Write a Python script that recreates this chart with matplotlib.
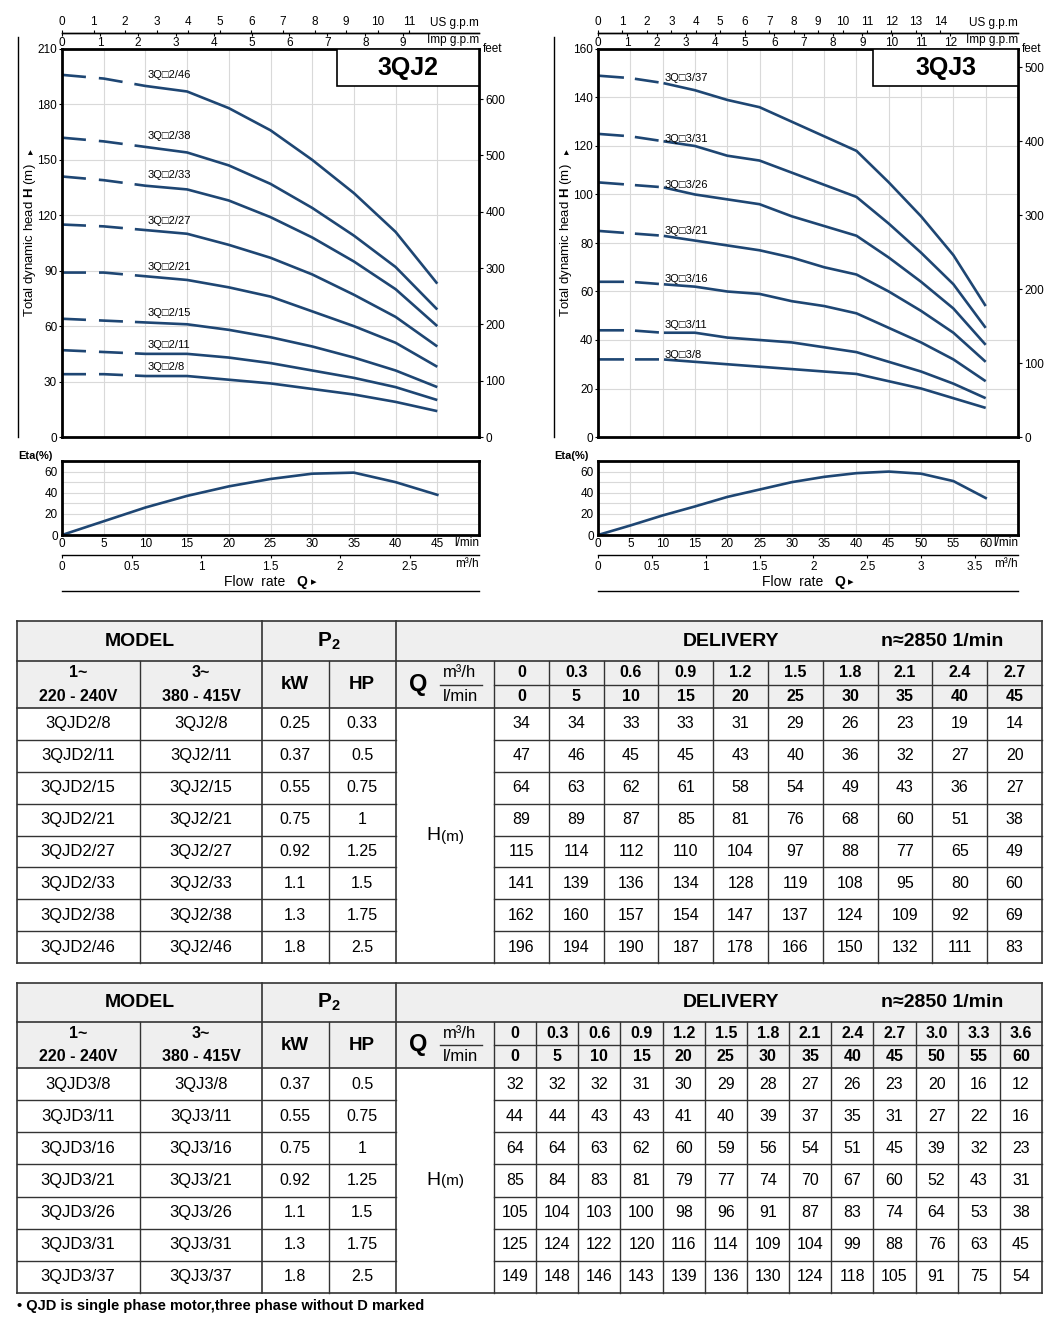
import numpy as np
import matplotlib
matplotlib.use("Agg")
import matplotlib.pyplot as plt
from matplotlib.patches import Rectangle
from matplotlib.ticker import MultipleLocator

plt.rcParams['font.family'] = ['Liberation Sans', 'DejaVu Sans']
plt.rcParams['mathtext.fontset'] = 'custom'
plt.rcParams['mathtext.rm'] = 'Liberation Sans'
plt.rcParams['mathtext.bf'] = 'Liberation Sans:bold'
plt.rcParams['lines.scale_dashes'] = False

# ---- data: 3QJ2 series ----
q2_m3h = ['0', '0.3', '0.6', '0.9', '1.2', '1.5', '1.8', '2.1', '2.4', '2.7']
q2_lpm = [0, 5, 10, 15, 20, 25, 30, 35, 40, 45]
models2_1ph = ['3QJD2/8', '3QJD2/11', '3QJD2/15', '3QJD2/21', '3QJD2/27', '3QJD2/33', '3QJD2/38', '3QJD2/46']
models2_3ph = ['3QJ2/8', '3QJ2/11', '3QJ2/15', '3QJ2/21', '3QJ2/27', '3QJ2/33', '3QJ2/38', '3QJ2/46']
kw2 = ['0.25', '0.37', '0.55', '0.75', '0.92', '1.1', '1.3', '1.8']
hp2 = ['0.33', '0.5', '0.75', '1', '1.25', '1.5', '1.75', '2.5']
head2 = [
    [34, 34, 33, 33, 31, 29, 26, 23, 19, 14],
    [47, 46, 45, 45, 43, 40, 36, 32, 27, 20],
    [64, 63, 62, 61, 58, 54, 49, 43, 36, 27],
    [89, 89, 87, 85, 81, 76, 68, 60, 51, 38],
    [115, 114, 112, 110, 104, 97, 88, 77, 65, 49],
    [141, 139, 136, 134, 128, 119, 108, 95, 80, 60],
    [162, 160, 157, 154, 147, 137, 124, 109, 92, 69],
    [196, 194, 190, 187, 178, 166, 150, 132, 111, 83],
]
label_y2 = [38, 50, 67, 92, 117, 142, 163, 196]
eta2 = [0, 13, 26, 37, 46, 53, 58, 59, 50, 38]

# ---- data: 3QJ3 series ----
q3_m3h = ['0', '0.3', '0.6', '0.9', '1.2', '1.5', '1.8', '2.1', '2.4', '2.7', '3.0', '3.3', '3.6']
q3_lpm = [0, 5, 10, 15, 20, 25, 30, 35, 40, 45, 50, 55, 60]
models3_1ph = ['3QJD3/8', '3QJD3/11', '3QJD3/16', '3QJD3/21', '3QJD3/26', '3QJD3/31', '3QJD3/37']
models3_3ph = ['3QJ3/8', '3QJ3/11', '3QJ3/16', '3QJ3/21', '3QJ3/26', '3QJ3/31', '3QJ3/37']
kw3 = ['0.37', '0.55', '0.75', '0.92', '1.1', '1.3', '1.8']
hp3 = ['0.5', '0.75', '1', '1.25', '1.5', '1.75', '2.5']
head3 = [
    [32, 32, 32, 31, 30, 29, 28, 27, 26, 23, 20, 16, 12],
    [44, 44, 43, 43, 41, 40, 39, 37, 35, 31, 27, 22, 16],
    [64, 64, 63, 62, 60, 59, 56, 54, 51, 45, 39, 32, 23],
    [85, 84, 83, 81, 79, 77, 74, 70, 67, 60, 52, 43, 31],
    [105, 104, 103, 100, 98, 96, 91, 87, 83, 74, 64, 53, 38],
    [125, 124, 122, 120, 116, 114, 109, 104, 99, 88, 76, 63, 45],
    [149, 148, 146, 143, 139, 136, 130, 124, 118, 105, 91, 75, 54],
]
label_y3 = [34, 46, 65, 85, 104, 123, 148]
eta3 = [0, 9, 18.5, 27, 36, 43, 50, 55, 58.5, 60, 58, 51, 35]

CURVE = '#1e4673'
GRID = '#d9d9d9'
LINE = '#333333'
HEAD_BG = '#efefef'

W, H = 1060, 1328
fig = plt.figure(figsize=(W / 100, H / 100), dpi=100)


def px_axes(x0, y0, x1, y1):
    return fig.add_axes([x0 / W, 1 - y1 / H, (x1 - x0) / W, (y1 - y0) / H])


def px2pt(v):
    return [a * 0.72 for a in v]


charts = [
    dict(x0=62, x1=479, xmax=50, hmax=210, hstep=30, feet=600, us=11, imp=9,
         m3=2.5, title='3QJ2', dash=[24, 13, 24, 12, 3000, 1], box=0.6595),
    dict(x0=598, x1=1018, xmax=65, hmax=160, hstep=20, feet=500, us=14, imp=12,
         m3=3.5, title='3QJ3', dash=[26, 11, 24, 5, 3000, 1], box=0.6548),
]
series = [(q2_lpm, head2, models2_3ph, label_y2, eta2),
          (q3_lpm, head3, models3_3ph, label_y3, eta3)]

for cfg, (flows, heads, names, label_y, eta) in zip(charts, series):
    x0, x1 = cfg['x0'], cfg['x1']
    # head chart
    ax = px_axes(x0, 49, x1, 437)
    ax.set_xlim(0, cfg['xmax'])
    ax.set_ylim(0, cfg['hmax'])
    ax.set_xticks(np.arange(0, cfg['xmax'] + 0.1, 5))
    ax.set_yticks(np.arange(0, cfg['hmax'] + 0.1, cfg['hstep']))
    ax.grid(True, color=GRID, lw=0.8)
    ax.set_axisbelow(True)
    ax.tick_params(axis='x', length=0, labelbottom=False)
    ax.tick_params(axis='y', length=2, pad=1.5, labelsize=8.5)
    for s in ax.spines.values():
        s.set_linewidth(2)
    for h, name, ly in zip(heads, names, label_y):
        ax.plot(flows, h, color=CURVE, lw=1.9, dashes=px2pt(cfg['dash']))
        ax.text(10.3, ly, '3Q\u25a1' + name[3:], fontsize=8, va='center', ha='left')
    ax.add_patch(Rectangle((cfg['box'], 0.9046), 1 - cfg['box'], 0.0954, transform=ax.transAxes,
                           fc='white', ec='black', lw=1.2, zorder=3))
    ax.text((1 + cfg['box']) / 2, 0.952, cfg['title'], transform=ax.transAxes, fontsize=18,
            fontweight='bold', ha='center', va='center', zorder=4)

    ax2 = ax.twinx()
    ax2.set_ylim(0, cfg['hmax'] / 0.3048)
    ax2.set_yticks(np.arange(0, cfg['feet'] + 1, 100))
    ax2.tick_params(axis='y', length=3, pad=1.5, labelsize=8.5)
    for s in ax2.spines.values():
        s.set_visible(False)

    loc = 1 + 16 / 388
    us = ax.secondary_xaxis(loc, functions=(lambda x: x / 3.785, lambda x: x * 3.785))
    us.set_xticks(range(cfg['us'] + 1))
    us.tick_params(length=2.5, pad=1, labelsize=8.5, width=0.8)
    imp = ax.secondary_xaxis(loc, functions=(lambda x: x / 4.546, lambda x: x * 4.546))
    imp.set_alignment('bottom')
    imp.set_xticks(range(cfg['imp'] + 1))
    imp.tick_params(length=2.5, pad=0.5, labelsize=8.5, width=0.8)
    for sa in (us, imp):
        for s in sa.spines.values():
            s.set_linewidth(1.0)

    # efficiency chart
    ae = px_axes(x0, 461, x1, 535)
    ae.set_xlim(0, cfg['xmax'])
    ae.set_ylim(0, 70)
    ae.set_xticks(flows)
    ae.set_xticklabels([str(t) for t in flows])
    ae.set_yticks([0, 20, 40, 60])
    ae.yaxis.set_minor_locator(MultipleLocator(10))
    ae.xaxis.set_minor_locator(MultipleLocator(5))
    ae.grid(True, which='both', color=GRID, lw=0.8)
    ae.set_axisbelow(True)
    ae.tick_params(which='both', length=0, labelsize=8.5)
    ae.tick_params(axis='x', pad=2)
    ae.tick_params(axis='y', pad=3)
    for s in ae.spines.values():
        s.set_linewidth(2)
    ae.plot(flows, eta, color=CURVE, lw=1.9)

    m3 = ae.secondary_xaxis(-20 / 74, functions=(lambda x: x * 0.06, lambda x: x / 0.06))
    mt = np.arange(0, cfg['m3'] + 0.01, 0.5)
    m3.set_xticks(mt)
    m3.set_xticklabels(['%g' % v for v in mt])
    m3.tick_params(length=2.5, pad=1.5, labelsize=8.5, width=0.8)
    for s in m3.spines.values():
        s.set_linewidth(1.0)

# overlay in pixel coordinates for texts and table
ov = fig.add_axes([0, 0, 1, 1])
ov.set_xlim(0, W)
ov.set_ylim(H, 0)
ov.axis('off')

for cfg in charts:
    x0, x1 = cfg['x0'], cfg['x1']
    ov.text(x1, 23, 'US g.p.m', fontsize=8.5, ha='right', va='center')
    ov.text(x1, 40, 'Imp g.p.m', fontsize=8.5, ha='right', va='center')
    ov.text(x1 + 4, 49, 'feet', fontsize=8.5, ha='left', va='center')
    ov.text(x1, 543, 'l/min', fontsize=8.5, ha='right', va='center')
    ov.text(x1, 564, 'm\u00b3/h', fontsize=8.5, ha='right', va='center')
    ov.text(x0 - 44, 456, 'Eta(%)', fontsize=8, fontweight='bold', ha='left', va='center')
    ov.plot([x0 - 44, x0 - 44], [37, 437], color='black', lw=1.0)
    ov.text(x0 - 32, 240, 'Total dynamic head $\\mathbf{H}$ (m)', fontsize=9.5,
            rotation=90, ha='center', va='center')
    ov.text(x0 - 32, 152, '\u25b8', fontsize=7, rotation=90, ha='center', va='center')
    cx = (x0 + x1) / 2
    ov.text(cx + 15, 582, 'Flow  rate', fontsize=10, ha='right', va='center')
    ov.text(cx + 26, 582, 'Q', fontsize=10, fontweight='bold', ha='left', va='center')
    ov.text(cx + 40, 582, '\u25b8', fontsize=8, ha='left', va='center')
    ov.plot([x0, x1], [591, 591], color='black', lw=1.0)


def draw_table(top, r1, r2, bottom, m1, m3_, kw, hp, qm3, ql, heads):
    xl, xr = 17, 1042
    vx0 = 494
    n = len(ql)
    cw = (xr - vx0) / n
    nrows = len(m1)
    rh = (bottom - r2) / nrows
    mid = (r1 + r2) / 2
    ov.add_patch(Rectangle((xl, top), xr - xl, r2 - top, fc=HEAD_BG, ec='none'))
    # horizontal lines
    for y in (top, r1, r2, bottom):
        ov.plot([xl, xr], [y, y], color=LINE, lw=1.2)
    for i in range(1, nrows):
        y = r2 + i * rh
        ov.plot([xl, 396], [y, y], color=LINE, lw=1.0)
        ov.plot([vx0, xr], [y, y], color=LINE, lw=1.0)
    ov.plot([vx0, xr], [mid, mid], color=LINE, lw=1.0)
    ov.plot([440, 482], [mid, mid], color=LINE, lw=1.0)
    # vertical lines
    for x in (xl, 262, 396, xr):
        ov.plot([x, x], [top, bottom], color=LINE, lw=1.2)
    for x in [140, 329, vx0] + [vx0 + j * cw for j in range(1, n)]:
        ov.plot([x, x], [r1, bottom], color=LINE, lw=1.0)
    # header texts
    hy = (top + r1) / 2
    ov.text(140, hy, 'MODEL', fontsize=14, fontweight='bold', ha='center', va='center')
    ov.text(329, hy, '$\\mathbf{P_2}$', fontsize=15, ha='center', va='center')
    ov.text(731, hy, 'DELIVERY', fontsize=14, fontweight='bold', ha='center', va='center')
    ov.text(942, hy, 'n\u22482850 1/min', fontsize=14, fontweight='bold', ha='center', va='center')
    ya, yb = (r1 + mid) / 2, (mid + r2) / 2
    ov.text(78, ya, '1~', fontsize=11.5, fontweight='bold', ha='center', va='center')
    ov.text(78, yb, '220 - 240V', fontsize=11.5, fontweight='bold', ha='center', va='center')
    ov.text(201, ya, '3~', fontsize=11.5, fontweight='bold', ha='center', va='center')
    ov.text(201, yb, '380 - 415V', fontsize=11.5, fontweight='bold', ha='center', va='center')
    ov.text(295, mid, 'kW', fontsize=13.5, fontweight='bold', ha='center', va='center')
    ov.text(362, mid, 'HP', fontsize=13.5, fontweight='bold', ha='center', va='center')
    ov.text(418, mid, 'Q', fontsize=17, fontweight='bold', ha='center', va='center')
    ov.text(460, ya, 'm\u00b3/h', fontsize=12, ha='center', va='center')
    ov.text(460, yb, 'l/min', fontsize=12, ha='center', va='center')
    for j in range(n):
        cx = vx0 + (j + 0.5) * cw
        ov.text(cx, ya, qm3[j], fontsize=11.5, fontweight='bold', ha='center', va='center')
        ov.text(cx, yb, str(ql[j]), fontsize=11.5, fontweight='bold', ha='center', va='center')
    # body
    for i in range(nrows):
        cy = r2 + (i + 0.5) * rh
        ov.text(78, cy, m1[i], fontsize=12, ha='center', va='center')
        ov.text(201, cy, m3_[i], fontsize=12, ha='center', va='center')
        ov.text(295, cy, kw[i], fontsize=11.5, ha='center', va='center')
        ov.text(362, cy, hp[i], fontsize=11.5, ha='center', va='center')
        for j in range(n):
            ov.text(vx0 + (j + 0.5) * cw, cy, str(heads[i][j]), fontsize=11.5, ha='center', va='center')
    hy2 = (r2 + bottom) / 2
    ov.text(441, hy2, 'H', fontsize=14, ha='right', va='center')
    ov.text(441, hy2 + 1, '(m)', fontsize=11, ha='left', va='center')


draw_table(621, 661, 708, 963, models2_1ph, models2_3ph, kw2, hp2, q2_m3h, q2_lpm, head2)
draw_table(983, 1022, 1068, 1293, models3_1ph, models3_3ph, kw3, hp3, q3_m3h, q3_lpm, head3)

ov.text(17, 1306, '\u2022 QJD is single phase motor,three phase without D marked', fontsize=10.5,
        fontweight='bold', ha='left', va='center')

fig.savefig('out.png', dpi=100)
